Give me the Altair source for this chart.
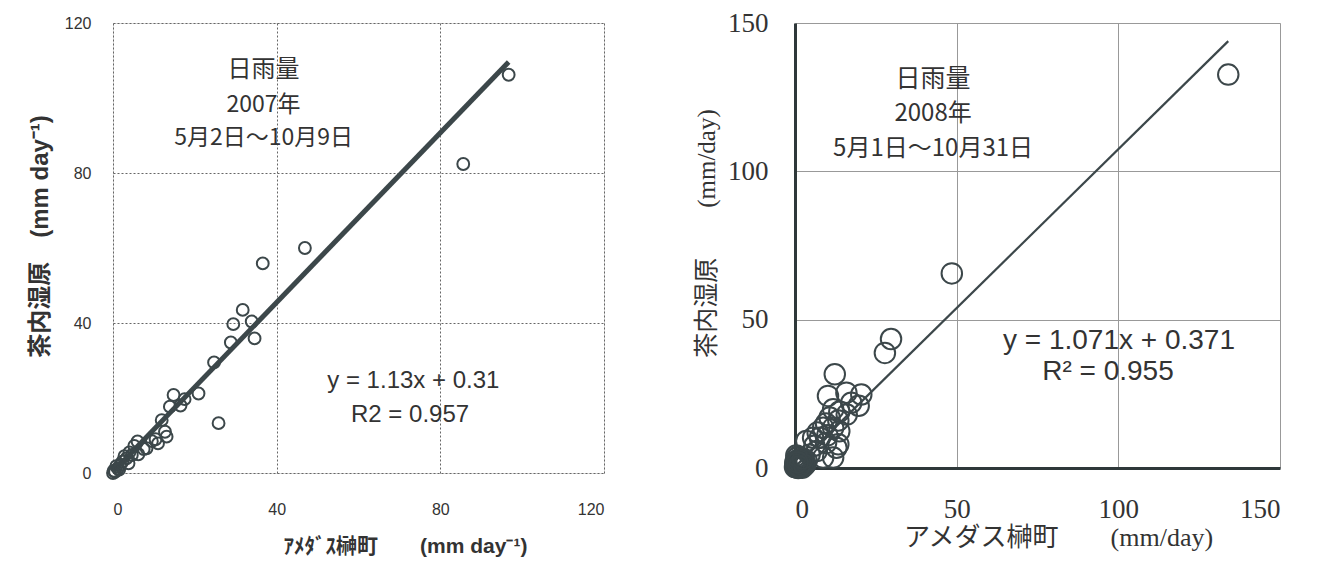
import altair as alt
import pandas as pd

# ---- 2007 (left) ----
left_x = [96.7, 85.6, 46.9, 36.6, 31.7, 29.4, 33.9, 34.6, 28.8, 24.7, 25.8, 20.9,
          17.5, 14.8, 13.9, 11.9, 13.1, 11.0, 8.2, 6.0, 6.2, 4.6, 3.3, 2.3, 1.2,
          0.5, 0.2, 0.0, 7.5, 9.5, 5.2, 4.0, 2.8, 1.8, 0.8, 3.8, 10.4, 16.5, 12.7, 1.5]
left_y = [106.2, 82.4, 60.0, 55.9, 43.5, 39.7, 40.4, 35.9, 34.8, 29.5, 13.3, 21.2,
          19.7, 20.8, 17.7, 14.1, 9.7, 7.9, 6.6, 8.4, 5.0, 4.8, 3.9, 3.0, 1.2,
          0.3, 0.6, 0.0, 6.4, 8.5, 7.2, 5.5, 4.5, 2.2, 1.8, 2.6, 9.0, 18.0, 11.0, 0.9]
left_fit = {"slope": 1.13, "intercept": 0.31, "x_end": [0.0, 96.7]}
left_ticks = [0, 40, 80, 120]
left_notes = ["日雨量", "2007年", "5月2日～10月9日"]
left_eq = ["y = 1.13x + 0.31", "R2 = 0.957"]

# ---- 2008 (right) ----
right_x = [134.0, 48.5, 29.7, 27.8, 12.3, 10.2, 15.9, 20.5, 17.4, 11.8, 13.7, 10.7,
           13.4, 19.7, 9.6, 8.7, 11.8, 13.7, 5.6, 7.7, 12.8, 13.4, 9.6, 11.8, 8.7,
           6.7, 3.5, 0.9, 0.5, 0.2, 1.5, 2.5, 0.3, 1.0, 2.0, 0.0, 4.5, 6.0, 3.0,
           0.7, 1.2, 16.0, 7.0, 10.0, 1.8, 0.4, 2.6, 3.2, 1.1, 0.1,
           0.6, 1.4, 2.2, 0.2, 0.9, 1.7, 2.9, 0.4, 3.6, 1.3, 2.4, 0.8]
right_y = [132.6, 65.6, 43.5, 38.8, 31.6, 24.3, 25.4, 24.8, 22.0, 19.8, 19.0, 17.0,
           16.0, 21.0, 15.0, 13.6, 13.6, 12.4, 10.2, 10.2, 6.8, 8.0, 8.4, 3.5, 3.5,
           5.7, 9.1, 2.5, 0.5, 1.0, 1.8, 3.0, 0.2, 0.0, 1.0, 0.3, 4.5, 7.5, 2.0,
           1.5, 0.8, 18.0, 12.0, 11.0, 0.4, 2.0, 0.6, 1.2, 2.8, 1.6,
           3.4, 2.6, 0.1, 2.2, 3.8, 1.4, 0.9, 4.2, 2.4, 0.5, 3.2, 1.9]
right_fit = {"slope": 1.071, "intercept": 0.371, "x_end": [0.0, 134.0]}
right_ticks = [0, 50, 100, 150]
right_notes = ["日雨量", "2008年", "5月1日～10月31日"]
right_eq = ["y = 1.071x + 0.371", "R² = 0.955"]

INK = "#3c474a"
TXT = "#333333"
SANS = "Liberation Sans, Noto Sans CJK JP"
SERIF = "Liberation Serif, Noto Sans CJK JP"
CJK = "Noto Sans CJK JP"

# ---------------- left panel ----------------
ldf = pd.DataFrame({"x": left_x, "y": left_y})
lfit = pd.DataFrame({"x": left_fit["x_end"]})
lfit["y"] = left_fit["slope"] * lfit["x"] + left_fit["intercept"]

lx = alt.X("x:Q", scale=alt.Scale(domain=[0, 120], nice=False),
           axis=alt.Axis(values=left_ticks, title="ｱﾒﾀﾞｽ榊町　　(mm day⁻¹)",
                         titleFont=SANS, titleFontSize=21, titleFontWeight="bold",
                         titleColor=TXT, titlePadding=18, titleX=292,
                         labelFont="Liberation Sans", labelFontSize=16, labelColor=TXT,
                         labelPadding=28, ticks=False, domain=False,
                         grid=True, gridDash=[2, 2], gridColor="#666", gridWidth=1))
ly = alt.Y("y:Q", scale=alt.Scale(domain=[0, 120], nice=False),
           axis=alt.Axis(values=left_ticks, title="茶内湿原　(mm day⁻¹)",
                         titleFont=SANS, titleFontSize=24, titleFontWeight="bold",
                         titleColor=TXT, titlePadding=12, titleY=213,
                         labelFont="Liberation Sans", labelFontSize=16, labelColor=TXT,
                         labelPadding=22, ticks=False, domain=False,
                         grid=True, gridDash=[2, 2], gridColor="#666", gridWidth=1))

l_pts = alt.Chart(ldf).mark_point(shape="circle", filled=False, size=140,
                                  strokeWidth=2, color=INK, opacity=1).encode(x=lx, y=ly)
l_line = alt.Chart(lfit).mark_line(color=INK, strokeWidth=5).encode(x="x:Q", y="y:Q")

lnote = pd.DataFrame({"t": left_notes, "x": [36.8, 36.8, 36.8], "y": [107.5, 98.1, 89.3],
                      "s": [24, 23, 23]})
l_note = alt.Chart(lnote).mark_text(font=CJK, color=TXT, align="center",
                                    baseline="middle").encode(
    x="x:Q", y="y:Q", text="t:N", size=alt.Size("s:Q", scale=None, legend=None))
leq = pd.DataFrame({"t": left_eq, "x": [73.4, 72.6], "y": [24.5, 15.5]})
l_eq = alt.Chart(leq).mark_text(font="Liberation Sans", fontSize=24, color=TXT,
                                align="center", baseline="middle").encode(
    x="x:Q", y="y:Q", text="t:N")

left = alt.layer(l_line, l_pts, l_note, l_eq).properties(width=491, height=450)

# ---------------- right panel ----------------
rdf = pd.DataFrame({"x": right_x, "y": right_y})
rfit = pd.DataFrame({"x": right_fit["x_end"]})
rfit["y"] = right_fit["slope"] * rfit["x"] + right_fit["intercept"]

rx = alt.X("x:Q", scale=alt.Scale(domain=[0, 150], nice=False),
           axis=alt.Axis(values=right_ticks, title="アメダス榊町　　(mm/day)",
                         titleFont=SERIF, titleFontSize=26, titleFontWeight="normal",
                         titleColor=TXT, titlePadding=2, titleX=263,
                         labelFont="Liberation Serif", labelFontSize=27, labelColor=TXT,
                         labelPadding=28, ticks=False,
                         domain=True, domainColor="#2f383a", domainWidth=3,
                         grid=True, gridColor="#999", gridWidth=1))
ry = alt.Y("y:Q", scale=alt.Scale(domain=[0, 150], nice=False),
           axis=alt.Axis(values=right_ticks, title="茶内湿原　　(mm/day)",
                         titleFont=SERIF, titleFontSize=25, titleFontWeight="normal",
                         titleColor=TXT, titlePadding=8, titleY=210,
                         labelFont="Liberation Serif", labelFontSize=27, labelColor=TXT,
                         labelPadding=27, ticks=False,
                         domain=True, domainColor="#2f383a", domainWidth=3,
                         grid=True, gridColor="#999", gridWidth=1))

r_pts = alt.Chart(rdf).mark_point(shape="circle", filled=False, size=420,
                                  strokeWidth=2, color=INK, opacity=1).encode(x=rx, y=ry)
r_line = alt.Chart(rfit).mark_line(color=INK, strokeWidth=2.2).encode(x="x:Q", y="y:Q")

rnote = pd.DataFrame({"t": right_notes, "x": [42.7, 42.7, 42.7], "y": [131.1, 119.3, 107.5],
                      "s": [25, 24, 24]})
r_note = alt.Chart(rnote).mark_text(font=CJK, color=TXT, align="center",
                                    baseline="middle").encode(
    x="x:Q", y="y:Q", text="t:N", size=alt.Size("s:Q", scale=None, legend=None))
req = pd.DataFrame({"t": right_eq, "x": [100.2, 96.8], "y": [42.8, 32.4]})
r_eq = alt.Chart(req).mark_text(font="Liberation Sans", fontSize=28, color=TXT,
                                align="center", baseline="middle").encode(
    x="x:Q", y="y:Q", text="t:N")

right = alt.layer(r_line, r_pts, r_note, r_eq).properties(width=485, height=445)

chart = alt.hconcat(left, right, spacing=89).properties(
    padding={"left": 19, "top": 0, "right": 5, "bottom": 5}
).configure_view(stroke="#8a8a8a", strokeWidth=1.5).configure(background="white")

chart.save("out.html", embed_options={"renderer": "svg", "actions": False})
